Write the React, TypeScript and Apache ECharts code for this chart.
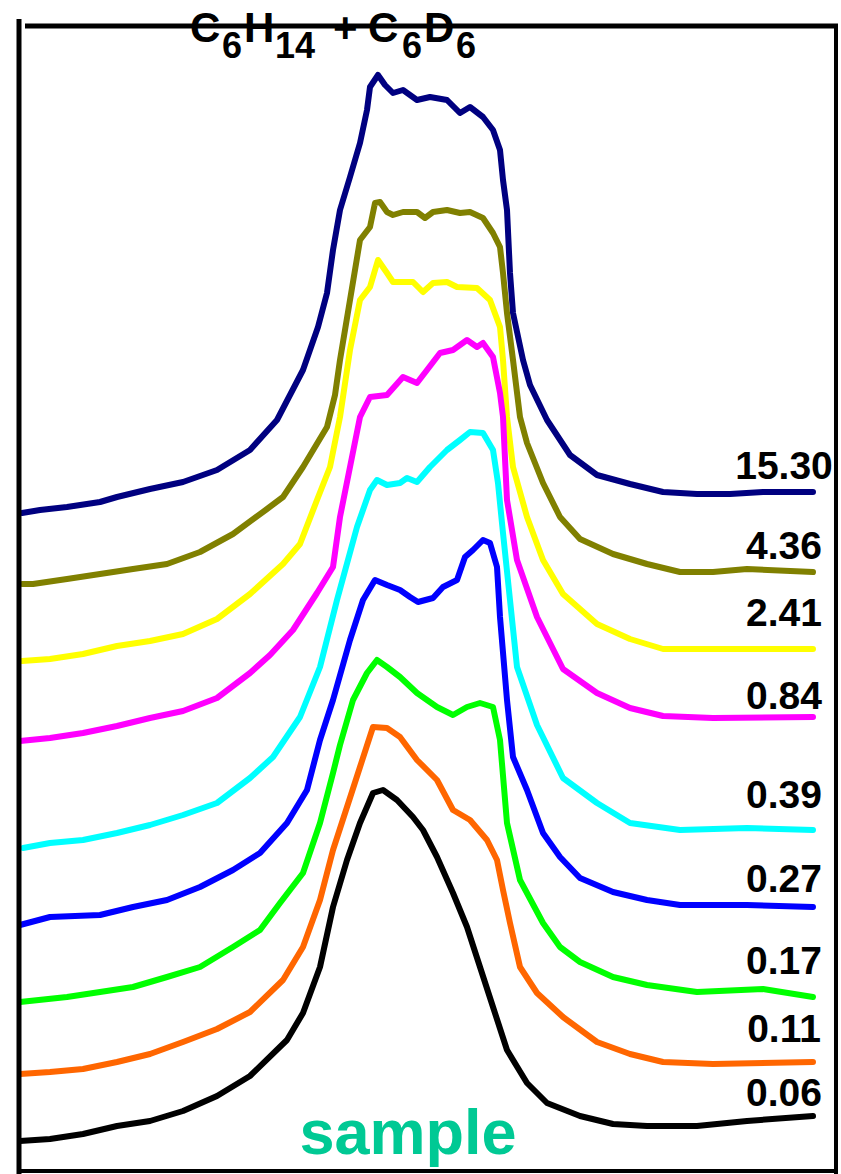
import React, { useEffect, useRef } from "react";
import * as echarts from "echarts";

// Concentration labels (top to bottom) and line colours
const concentrations = ["15.30", "4.36", "2.41", "0.84", "0.39", "0.27", "0.17", "0.11", "0.06"];
const lineColors = ["#000080", "#808000", "#FFFF00", "#FF00FF", "#00FFFF", "#0000FF", "#00FF00", "#FF6600", "#000000"];

// Spectra: [channel, intensity (a.u., stacked offset included)]
const s1530 = [[2,657],[20,660],[47,663],[80,668],[97,673],[130,681],[163,688],[197,700],[230,720],[257,750],[270,775],[283,800],[298,843],[307,877],[313,920],[320,960],[330,993],[340,1027],[347,1060],[350,1083],[358,1095],[365,1085],[373,1077],[383,1080],[397,1070],[410,1073],[427,1070],[440,1057],[450,1063],[463,1053],[473,1040],[480,1020],[483,990],[487,960],[490,897],[493,857],[503,810],[510,785],[527,750],[550,715],[577,695],[610,686],[643,678],[677,676],[710,676],[743,678],[793,678]];
const s436 = [[2,586],[13,586],[47,591],[80,596],[113,601],[147,606],[180,618],[213,636],[247,661],[263,673],[283,703],[307,743],[315,775],[320,810],[330,870],[340,930],[350,943],[355,967],[360,968],[367,958],[373,955],[383,958],[397,958],[405,952],[413,958],[427,960],[440,957],[450,958],[463,952],[473,937],[480,923],[483,897],[487,857],[493,810],[500,753],[507,727],[523,687],[540,653],[560,631],[593,616],[627,606],[660,598],[693,598],[727,601],[793,598]];
const s241 = [[2,509],[30,511],[63,516],[97,524],[130,529],[163,536],[197,551],[230,576],[263,606],[280,626],[297,670],[310,703],[320,753],[330,820],[340,870],[350,883],[358,910],[367,897],[373,888],[393,888],[403,878],[413,887],[427,888],[437,883],[457,882],[470,870],[480,843],[483,810],[487,753],[493,703],[507,653],[523,610],[543,576],[577,546],[610,531],[643,521],[693,521],[793,521]];
const s084 = [[0,429],[30,432],[63,437],[97,444],[130,452],[163,459],[197,472],[230,497],[250,515],[273,540],[297,577],[313,603],[320,653],[330,703],[340,753],[350,773],[367,775],[383,793],[397,787],[407,800],[420,817],[433,820],[447,830],[457,823],[463,827],[473,813],[480,777],[483,753],[487,670],[497,610],[517,553],[543,501],[577,477],[610,462],[643,454],[693,452],[793,453]];
const s039 = [[3,322],[30,327],[63,330],[97,337],[130,345],[163,355],[197,367],[230,392],[253,413],[280,453],[300,503],[317,570],[337,643],[350,680],[357,690],[367,685],[380,687],[387,692],[397,688],[410,703],[427,720],[440,730],[450,738],[463,737],[473,720],[478,687],[483,637],[490,570],[497,503],[517,445],[543,392],[577,367],[610,347],[660,340],[727,342],[793,340]];
const s027 = [[0,245],[30,253],[80,255],[113,263],[147,270],[180,283],[213,300],[240,317],[267,347],[287,380],[300,430],[313,470],[330,530],[343,570],[355,590],[367,585],[380,580],[390,573],[398,568],[413,572],[423,583],[437,590],[445,613],[453,620],[463,630],[470,627],[477,603],[480,553],[487,470],[493,413],[507,380],[523,337],[540,313],[560,292],[593,278],[627,270],[660,265],[727,265],[793,263]];
const s017 = [[0,168],[47,173],[80,178],[113,183],[147,193],[180,203],[213,223],[240,240],[260,267],[283,297],[300,347],[313,397],[320,425],[333,470],[347,497],[357,510],[367,503],[380,493],[397,477],[417,463],[433,455],[447,463],[460,467],[473,463],[480,430],[487,347],[500,290],[523,247],[540,223],[560,208],[593,193],[627,185],[677,178],[743,181],[793,173]];
const s011 = [[0,96],[30,98],[63,101],[97,108],[130,116],[163,128],[197,141],[230,158],[263,190],[283,223],[300,270],[313,320],[327,363],[340,403],[353,443],[367,442],[380,433],[397,410],[417,390],[433,360],[450,350],[467,330],[477,310],[483,280],[490,247],[500,203],[517,177],[543,153],[577,128],[610,116],[643,108],[693,106],[793,108]];
const s006 = [[0,29],[30,31],[63,36],[97,44],[130,49],[163,59],[197,74],[230,94],[267,130],[283,157],[300,203],[313,263],[327,310],[340,347],[353,377],[363,380],[377,370],[393,353],[403,340],[417,313],[433,277],[447,243],[460,203],[473,163],[487,120],[507,87],[527,67],[560,54],[593,46],[627,44],[677,44],[727,49],[793,54]];

const spectra = [s1530, s436, s241, s084, s039, s027, s017, s011, s006];
const labelCenterY = [465, 545, 612, 695, 794, 878, 960, 1028, 1092];

const FONT = "'Liberation Sans', Arial, Helvetica, sans-serif";

function txt(text: string, x: number, y: number, size: number, fill: string, align: string = "left") {
  return {
    type: "text",
    x,
    y,
    z: 100,
    style: {
      text,
      fill,
      fontSize: size,
      fontWeight: "bold",
      fontFamily: FONT,
      textAlign: align,
      align,
      textVerticalAlign: "middle",
      verticalAlign: "middle",
    },
  };
}

function ln(x1: number, y1: number, x2: number, y2: number, w: number) {
  return {
    type: "line",
    z: 50,
    shape: { x1, y1, x2, y2 },
    style: { stroke: "#000", lineWidth: w },
  };
}

export default function App() {
  const ref = useRef<HTMLDivElement>(null);
  useEffect(() => {
    document.body.style.margin = "0";
    const chart = echarts.init(ref.current!, null, { renderer: "svg" });
    const graphics: any[] = [
      ln(19, 19, 19, 1174, 5),
      ln(25, 26, 838, 26, 5),
      ln(836, 24, 836, 1174, 4),
      ln(17, 1171, 838, 1171, 4),
      // title C6H14 + C6D6
      txt("C", 190, 27, 42, "#000"),
      txt("6", 222, 45, 36, "#000"),
      txt("H", 244, 27, 42, "#000"),
      txt("14", 275, 45, 36, "#000"),
      txt("+", 333, 27, 42, "#000"),
      txt("C", 368, 27, 42, "#000"),
      txt("6", 402, 45, 36, "#000"),
      txt("D", 424, 27, 42, "#000"),
      txt("6", 456, 45, 36, "#000"),
      txt("sample", 408, 1132, 63, "#00C994", "center"),
    ];
    concentrations.forEach((c, i) => {
      graphics.push(txt(c, 784, labelCenterY[i], 39, "#000", "center"));
    });
    chart.setOption({
      animation: false,
      backgroundColor: "#fff",
      grid: { left: 20, right: 3, top: 0, bottom: 4 },
      xAxis: { type: "value", min: 0, max: 818, show: false },
      yAxis: { type: "value", min: 0, max: 1170, show: false },
      series: spectra.map((d, i) => ({
        type: "line",
        data: d,
        symbol: "none",
        smooth: false,
        lineStyle: { color: lineColors[i], width: 6, join: "round", cap: "round" },
        z: 10 + i,
      })),
      graphic: graphics,
    });
    return () => chart.dispose();
  }, []);
  return <div ref={ref} style={{ width: 841, height: 1174 }} />;
}
